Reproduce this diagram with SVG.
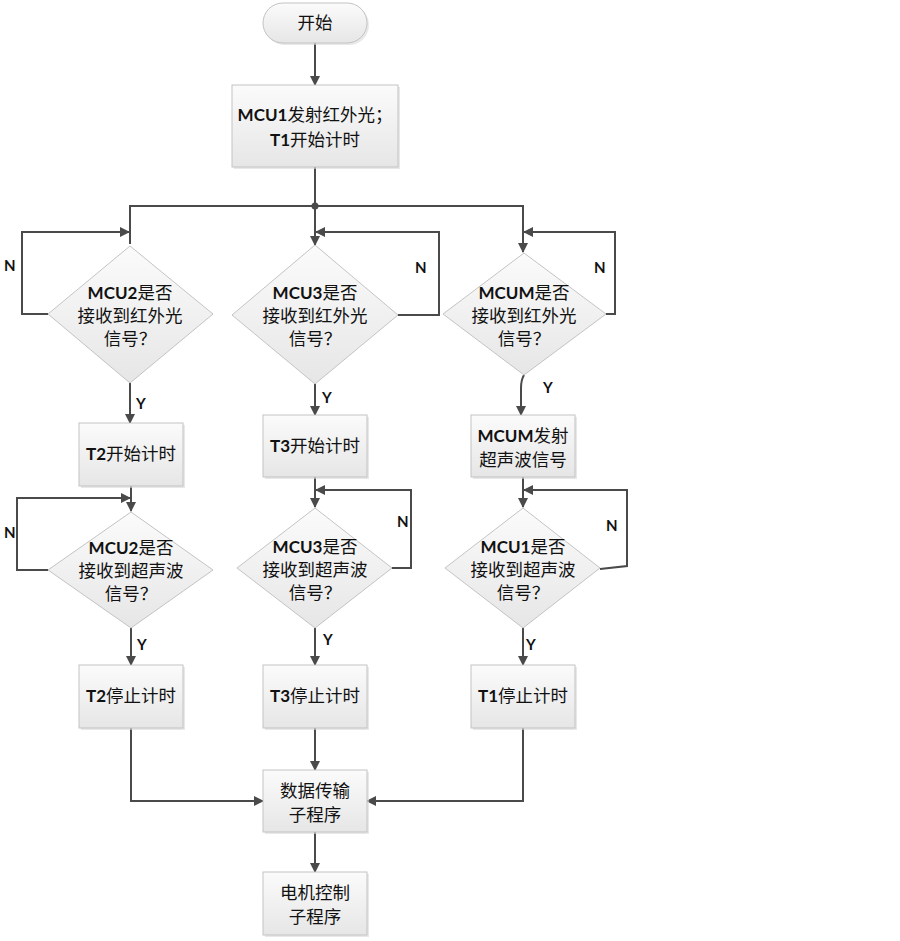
<svg xmlns="http://www.w3.org/2000/svg" width="900" height="941" viewBox="0 0 900 941">
<style>
.shape{fill:url(#g);stroke:#c3c3c3;stroke-width:1}
.sh{fill:#d8d8d8;opacity:0.6}
.ln{fill:none;stroke:#4a4a4a;stroke-width:2}
.t{font-family:"Noto Sans CJK SC","Microsoft YaHei",sans-serif;font-size:17.5px;fill:#111;text-anchor:middle}
.b{font-family:Lato,"Liberation Sans",sans-serif;font-weight:bold;font-size:17px}
.lb{font-family:Lato,"Liberation Sans",sans-serif;font-weight:bold;font-size:15px;fill:#111}
</style>
<defs>
<linearGradient id="g" x1="0" y1="0" x2="0" y2="1">
<stop offset="0" stop-color="#fbfbfb"/>
<stop offset="1" stop-color="#e6e6e6"/>
</linearGradient>
<marker id="a" markerWidth="10" markerHeight="10" refX="9" refY="5" orient="auto" markerUnits="userSpaceOnUse">
<path d="M0,0 L10,5 L0,10 z" fill="#4a4a4a"/>
</marker>
</defs>
<rect width="900" height="941" fill="#fff"/>

<g id="connectors">
<path class="ln" d="M315,43 V85" marker-end="url(#a)"/>
<path class="ln" d="M315,167 V245" marker-end="url(#a)"/>
<path class="ln" d="M130,244 V206 H523 V252" marker-end="url(#a)"/>
<circle cx="315" cy="206" r="3.5" fill="#4a4a4a"/>
<path class="ln" d="M48,314 H22 V232 H129" marker-end="url(#a)"/>
<path class="ln" d="M398,315 H439 V232 H316" marker-end="url(#a)"/>
<path class="ln" d="M606,314 H615 V232 H524" marker-end="url(#a)"/>
<path class="ln" d="M130,383 V423" marker-end="url(#a)"/>
<path class="ln" d="M315,384 V415" marker-end="url(#a)"/>
<path class="ln" d="M524,375 Q521,380 521,388 V415" marker-end="url(#a)"/>
<path class="ln" d="M131,486 V511" marker-end="url(#a)"/>
<path class="ln" d="M315,477 V507" marker-end="url(#a)"/>
<path class="ln" d="M523,477 V507" marker-end="url(#a)"/>
<path class="ln" d="M48,570 H17 V498 H130" marker-end="url(#a)"/>
<path class="ln" d="M392,568 H411 V490 H316" marker-end="url(#a)"/>
<path class="ln" d="M600,569 L627,566 V490 H524" marker-end="url(#a)"/>
<path class="ln" d="M131,628 V665" marker-end="url(#a)"/>
<path class="ln" d="M315,628 V665" marker-end="url(#a)"/>
<path class="ln" d="M523,628 V665" marker-end="url(#a)"/>
<path class="ln" d="M315,728 V770" marker-end="url(#a)"/>
<path class="ln" d="M131,728 V801 H263" marker-end="url(#a)"/>
<path class="ln" d="M523,728 V801 H367" marker-end="url(#a)"/>
<path class="ln" d="M315,832 V872" marker-end="url(#a)"/>
<text class="lb" x="4" y="271">N</text>
<text class="lb" x="415" y="273">N</text>
<text class="lb" x="594" y="273">N</text>
<text class="lb" x="136" y="409">Y</text>
<text class="lb" x="322" y="403">Y</text>
<text class="lb" x="543" y="393">Y</text>
<text class="lb" x="4" y="538">N</text>
<text class="lb" x="397" y="527">N</text>
<text class="lb" x="606" y="531">N</text>
<text class="lb" x="137" y="650">Y</text>
<text class="lb" x="323" y="645">Y</text>
<text class="lb" x="526" y="650">Y</text>
</g>

<g id="start">
<rect class="sh" x="265" y="5" width="104" height="40" rx="20"/>
<rect class="shape" x="263" y="3" width="104" height="40" rx="20"/>
<text class="t" x="315" y="29">开始</text>
</g>

<g id="mcu1-emit">
<rect class="sh" x="234" y="87" width="166" height="82"/>
<rect class="shape" x="232" y="85" width="166" height="82"/>
<text class="t" x="315" y="121"><tspan class="b">MCU1</tspan>发射红外光；</text>
<text class="t" x="315" y="146"><tspan class="b">T1</tspan>开始计时</text>
</g>

<g id="d-mcu2-ir">
<path class="shape" d="M130,246 L213,314 L130,383 L48,314 Z"/>
<text class="t" x="130" y="299"><tspan class="b">MCU2</tspan>是否</text>
<text class="t" x="130" y="322">接收到红外光</text>
<text class="t" x="130" y="345">信号？</text>
</g>

<g id="d-mcu3-ir">
<path class="shape" d="M315,245 L398,315 L315,384 L232,315 Z"/>
<text class="t" x="315" y="299"><tspan class="b">MCU3</tspan>是否</text>
<text class="t" x="315" y="322">接收到红外光</text>
<text class="t" x="315" y="345">信号？</text>
</g>

<g id="d-mcum-ir">
<path class="shape" d="M524,253 L606,314 L524,375 L443,314 Z"/>
<text class="t" x="524" y="299"><tspan class="b">MCUM</tspan>是否</text>
<text class="t" x="524" y="322">接收到红外光</text>
<text class="t" x="524" y="345">信号？</text>
</g>

<g id="t2-start">
<rect class="sh" x="81" y="425" width="104" height="63"/>
<rect class="shape" x="79" y="423" width="104" height="63"/>
<text class="t" x="131" y="460"><tspan class="b">T2</tspan>开始计时</text>
</g>

<g id="t3-start">
<rect class="sh" x="265" y="417" width="104" height="62"/>
<rect class="shape" x="263" y="415" width="104" height="62"/>
<text class="t" x="315" y="452"><tspan class="b">T3</tspan>开始计时</text>
</g>

<g id="mcum-emit">
<rect class="sh" x="473" y="417" width="104" height="62"/>
<rect class="shape" x="471" y="415" width="104" height="62"/>
<text class="t" x="523" y="442"><tspan class="b">MCUM</tspan>发射</text>
<text class="t" x="523" y="466">超声波信号</text>
</g>

<g id="d-mcu2-us">
<path class="shape" d="M131,512 L213,570 L131,628 L48,570 Z"/>
<text class="t" x="131" y="554"><tspan class="b">MCU2</tspan>是否</text>
<text class="t" x="131" y="577">接收到超声波</text>
<text class="t" x="131" y="600">信号？</text>
</g>

<g id="d-mcu3-us">
<path class="shape" d="M315,508 L392,568 L315,628 L237,568 Z"/>
<text class="t" x="315" y="553"><tspan class="b">MCU3</tspan>是否</text>
<text class="t" x="315" y="576">接收到超声波</text>
<text class="t" x="315" y="599">信号？</text>
</g>

<g id="d-mcu1-us">
<path class="shape" d="M523,508 L600,568 L523,628 L445,568 Z"/>
<text class="t" x="523" y="553"><tspan class="b">MCU1</tspan>是否</text>
<text class="t" x="523" y="576">接收到超声波</text>
<text class="t" x="523" y="599">信号？</text>
</g>

<g id="t2-stop">
<rect class="sh" x="81" y="667" width="104" height="63"/>
<rect class="shape" x="79" y="665" width="104" height="63"/>
<text class="t" x="131" y="702"><tspan class="b">T2</tspan>停止计时</text>
</g>

<g id="t3-stop">
<rect class="sh" x="265" y="667" width="104" height="63"/>
<rect class="shape" x="263" y="665" width="104" height="63"/>
<text class="t" x="315" y="702"><tspan class="b">T3</tspan>停止计时</text>
</g>

<g id="t1-stop">
<rect class="sh" x="473" y="667" width="104" height="63"/>
<rect class="shape" x="471" y="665" width="104" height="63"/>
<text class="t" x="523" y="702"><tspan class="b">T1</tspan>停止计时</text>
</g>

<g id="data-transfer">
<rect class="sh" x="265" y="772" width="104" height="62"/>
<rect class="shape" x="263" y="770" width="104" height="62"/>
<text class="t" x="315" y="797">数据传输</text>
<text class="t" x="315" y="821">子程序</text>
</g>

<g id="motor-control">
<rect class="sh" x="265" y="874" width="104" height="63"/>
<rect class="shape" x="263" y="872" width="104" height="63"/>
<text class="t" x="315" y="899">电机控制</text>
<text class="t" x="315" y="923">子程序</text>
</g>
</svg>
